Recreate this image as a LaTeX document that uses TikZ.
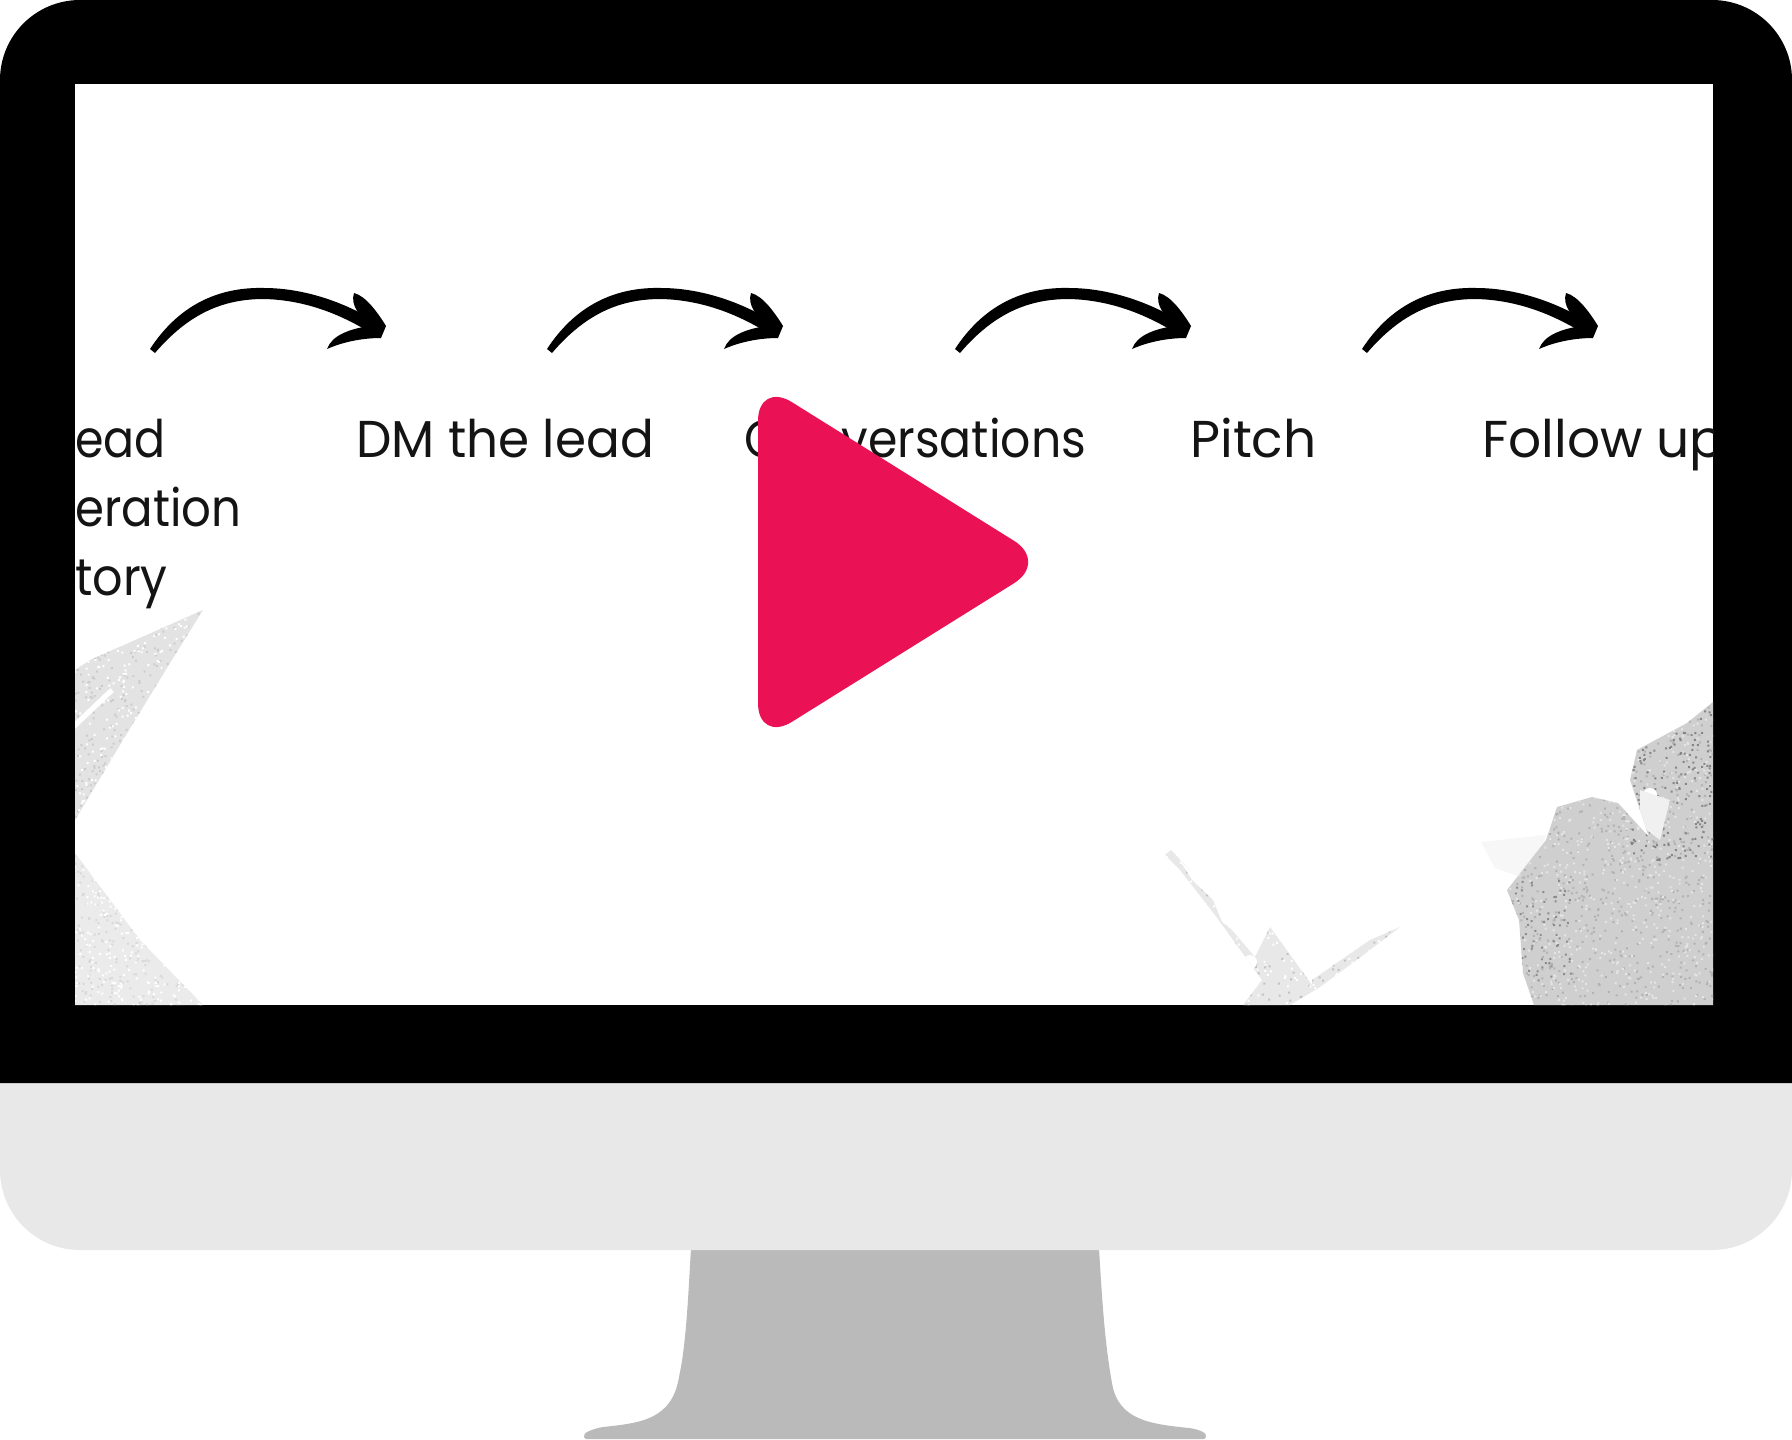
\documentclass[tikz,border=0pt]{standalone}
\usepackage{fontspec}
\setmainfont{Poppins}
\definecolor{playred}{HTML}{EB1155}
\definecolor{chingray}{HTML}{E8E8E8}
\definecolor{standgray}{HTML}{BABABA}
\tikzset{
    steplabel/.style={anchor=base west, inner sep=0pt, text=black!92, xscale=#1, transform shape, font=\fontsize{29.5}{35}\selectfont},
    brush/.style={fill=black, draw=none},
    paper/.style={fill=black!#1, draw=none}
}
% grain scattered over a box, to be used inside a clip
\newcommand{\speckle}[6]{
    \fill[#6] \foreach \i in {1,...,#5} {
        ({#1+rnd*(#3-#1)}, {#2+rnd*(#4-#2)}) rectangle ++(2, 2)
    };
}
\pgfmathsetseed{4711}
\begin{document}
\begin{tikzpicture}[x=0.02cm, y=-0.02cm]
    \useasboundingbox (0, 0) rectangle (1792, 1440);
    % stand, chin and bezel
    \fill[standgray] (691, 1248) .. controls (688, 1300) and (686, 1345) .. (679, 1377)
        .. controls (672, 1420) and (640, 1423) .. (603, 1427)
        .. controls (592, 1429) and (582, 1433) .. (584, 1437)
        -- (586, 1439) -- (1204, 1439) -- (1206, 1437)
        .. controls (1208, 1433) and (1198, 1429) .. (1189, 1428)
        .. controls (1150, 1424) and (1118, 1420) .. (1112, 1383)
        .. controls (1105, 1345) and (1102, 1300) .. (1099, 1248) -- cycle;
    \fill[chingray, rounded corners=1.6cm] (0, 900) -- (0, 1250) -- (1792, 1250) -- (1792, 900) -- cycle;
    \fill[black, rounded corners=1.6cm] (0, 1083) -- (0, 0) -- (1792, 0) -- (1792, 1083);
    \fill[black] (0, 1000) rectangle (1792, 1083);
    \fill[white] (75, 84) rectangle (1713, 1005);
    \begin{scope}
        \clip (75, 84) rectangle (1713, 1005);
        % worn paper, left side
        \begin{scope}
            \clip (75, 670) -- (90, 660) -- (203, 610) -- (170, 663) -- (123, 740) -- (75, 820) -- cycle;
            \fill[paper=11] (70, 600) rectangle (210, 830);
            \speckle{70}{600}{210}{830}{450}{black!20}
            \speckle{70}{600}{210}{830}{350}{white}
            \draw[white, line width=3pt] (70, 730) -- (112, 690);
        \end{scope}
        \begin{scope}
            \clip (75, 853) -- (140, 940) -- (203, 1005) -- (75, 1005) -- cycle;
            \fill[paper=8] (70, 850) rectangle (205, 1010);
            \speckle{70}{850}{205}{1010}{350}{black!15}
            \speckle{70}{850}{205}{1010}{300}{white}
        \end{scope}
        % worn paper, right side
        \fill[paper=3] (1481, 842) -- (1546, 835) -- (1530, 880) -- (1495, 868) -- cycle;
        \begin{scope}
            \clip (1713, 702) -- (1687, 723) -- (1637, 750) -- (1630, 780) -- (1649, 837) -- (1618, 803) -- (1592, 797)
                -- (1557, 807) -- (1546, 840) -- (1507, 890) -- (1519, 920) -- (1523, 973) -- (1534, 1005) -- (1713, 1005) -- cycle;
            \fill[paper=19] (1500, 700) rectangle (1715, 1010);
            \speckle{1500}{700}{1715}{1010}{800}{black!30}
            \speckle{1500}{700}{1715}{1010}{700}{black!10}
            \speckle{1630}{700}{1715}{860}{200}{black!48}
            \speckle{1510}{880}{1570}{980}{80}{black!45}
            \fill[white] (1650, 795) circle (7);
            \fill[black!6] (1640, 790) -- (1670, 800) -- (1660, 840) -- (1640, 825) -- cycle;
        \end{scope}
        \begin{scope}
            \clip (1171, 850) -- (1190, 870) -- (1178, 858) -- (1192, 880) -- (1213, 900) -- (1222, 922)
                -- (1232, 930) -- (1255, 957) -- (1270, 927) -- (1312, 985) -- (1312, 980) -- (1370, 940) -- (1400, 927) -- (1366, 953) -- (1320, 987) -- (1290, 1005)
                -- (1243, 1005) -- (1262, 980) -- (1215, 915) -- (1180, 870) -- (1165, 855) -- cycle;
            \fill[paper=9] (1160, 840) rectangle (1405, 1010);
            \speckle{1160}{840}{1405}{1010}{300}{black!24}
            \speckle{1160}{840}{1405}{1010}{350}{white}
            \fill[white] (1250, 962) circle (7);
        \end{scope}
        % step labels, cut by the screen edge
        \node[steplabel=0.885] (leadA) at (75, 457) {ead};
        \node[steplabel=0.9] (leadB) at (75, 526) {eration};
        \node[steplabel=0.92] (leadC) at (75, 595) {tory};
        \node[steplabel=0.966] (dm) at (356, 457) {DM the lead};
        \node[steplabel=0.914] (conv) at (744, 457) {Conversations};
        \node[steplabel=1] (pitch) at (1190, 457) {Pitch};
        \node[steplabel=1] (follow) at (1482, 457) {Follow up};
    \end{scope}
    % hand drawn arrows
    \foreach \shiftx in {0, 397, 805, 1212} {
        \begin{scope}[xshift=\shiftx*0.02cm]
            \fill[brush] (150, 349) .. controls (182, 300) and (225, 287) .. (264, 288)
                .. controls (305, 288) and (345, 303) .. (373, 320)
                -- (371, 333) .. controls (340, 314) and (305, 300) .. (264, 299)
                .. controls (225, 299) and (190, 312) .. (155, 353) -- cycle;
            \fill[brush] (354, 293) .. controls (366, 296) and (378, 313) .. (386, 326)
                -- (381, 338) .. controls (365, 338) and (345, 341) .. (327, 349)
                .. controls (332, 335) and (350, 329) .. (369, 326)
                .. controls (360, 316) and (350, 305) .. (354, 293) -- cycle;
        \end{scope}
    }
    % play button over the labels
    \fill[playred, rounded corners=0.8cm] (758, 381) -- (1048, 562) -- (758, 743) -- cycle;
\end{tikzpicture}
\end{document}
